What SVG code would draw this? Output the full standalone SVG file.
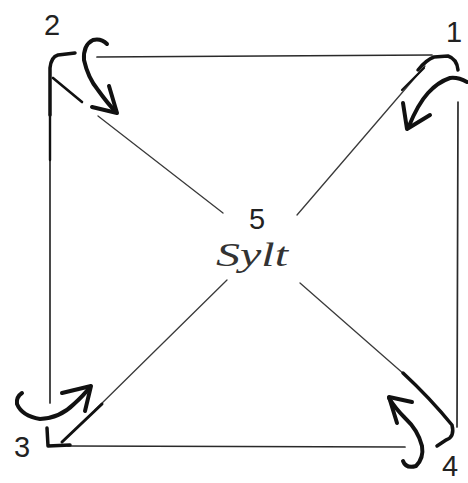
<svg xmlns="http://www.w3.org/2000/svg" width="468" height="483" viewBox="0 0 468 483">
<defs>
<style>
.edge{fill:none;stroke:#2a2a2a;stroke-width:1.7;stroke-linecap:round}
.diag{fill:none;stroke:#3a3a3a;stroke-width:1.3;stroke-linecap:round}
.thick{fill:none;stroke:#111;stroke-width:3.5;stroke-linecap:round;stroke-linejoin:round}
.arrow{fill:none;stroke:#111;stroke-width:4;stroke-linecap:round;stroke-linejoin:round}
.num{font-family:"Liberation Sans",Arial,sans-serif;font-size:29px;fill:#222}
.hand{font-family:"Liberation Serif",serif;font-style:italic;font-size:34px;fill:#333}
</style>
</defs>
<rect width="468" height="483" fill="#fff"/>
<g id="connectors">
<path class="edge" d="M97 57 L432 55"/>
<path class="edge" d="M458 102 L457 427"/>
<path class="edge" d="M405 447 L68 446"/>
<path class="edge" d="M50 403 L50 68"/>
<path class="diag" d="M98 116 L223 213"/>
<path class="diag" d="M297 215 L425 66"/>
<path class="diag" d="M227 280 L95 410"/>
<path class="diag" d="M300 283 L405 375"/>
</g>
<g id="corner1">
<path class="thick" d="M418 70 Q426 60 434 57 L448 56 Q457 59 458 70"/>
<path class="thick" d="M424 68 L402 90" style="stroke-width:2.2"/>
<path class="arrow" d="M467 82 Q458 77 450 78 Q438 82 428 93 Q418 104 409 126"/>
<path class="arrow" d="M403 103 L407 129 L430 115"/>
<text class="num" x="446" y="42">1</text>
</g>
<g id="corner2">
<path class="thick" d="M50 115 L50 68 Q51 57 58 55 L75 53"/>
<path class="thick" d="M50 160 L50 115" style="stroke-width:2.4"/>
<path class="thick" d="M53 78 L82 102" style="stroke-width:2.6"/>
<path class="arrow" d="M107 44 Q101 38 93 40 Q83 45 84 60 Q88 78 98 90 Q108 104 116 112"/>
<path class="arrow" d="M92 107 L117 113 L109 86"/>
<text class="num" x="44" y="35">2</text>
</g>
<g id="corner3">
<path class="thick" d="M47 428 L48 446 L70 445"/>
<path class="thick" d="M62 442 Q80 425 102 404" style="stroke-width:3"/>
<path class="arrow" d="M22 393 Q16 397 17 404 Q22 416 40 419 Q60 418 74 404 Q84 395 90 387"/>
<path class="arrow" d="M62 393 L91 386 L85 411"/>
<text class="num" x="14" y="457">3</text>
</g>
<g id="corner4">
<path class="thick" d="M403 373 Q430 398 452 425 Q455 437 446 440 L437 446"/>
<path class="arrow" d="M403 461 Q406 469 416 466 Q424 458 422 446 Q418 430 405 418 Q395 408 389 398"/>
<path class="arrow" d="M412 402 L389 397 L397 423"/>
<text class="num" x="442" y="476">4</text>
</g>
<g id="center">
<text class="num" x="249" y="229">5</text>
<text class="hand" x="216" y="266" textLength="72" lengthAdjust="spacingAndGlyphs">Sylt</text>
</g>
</svg>
